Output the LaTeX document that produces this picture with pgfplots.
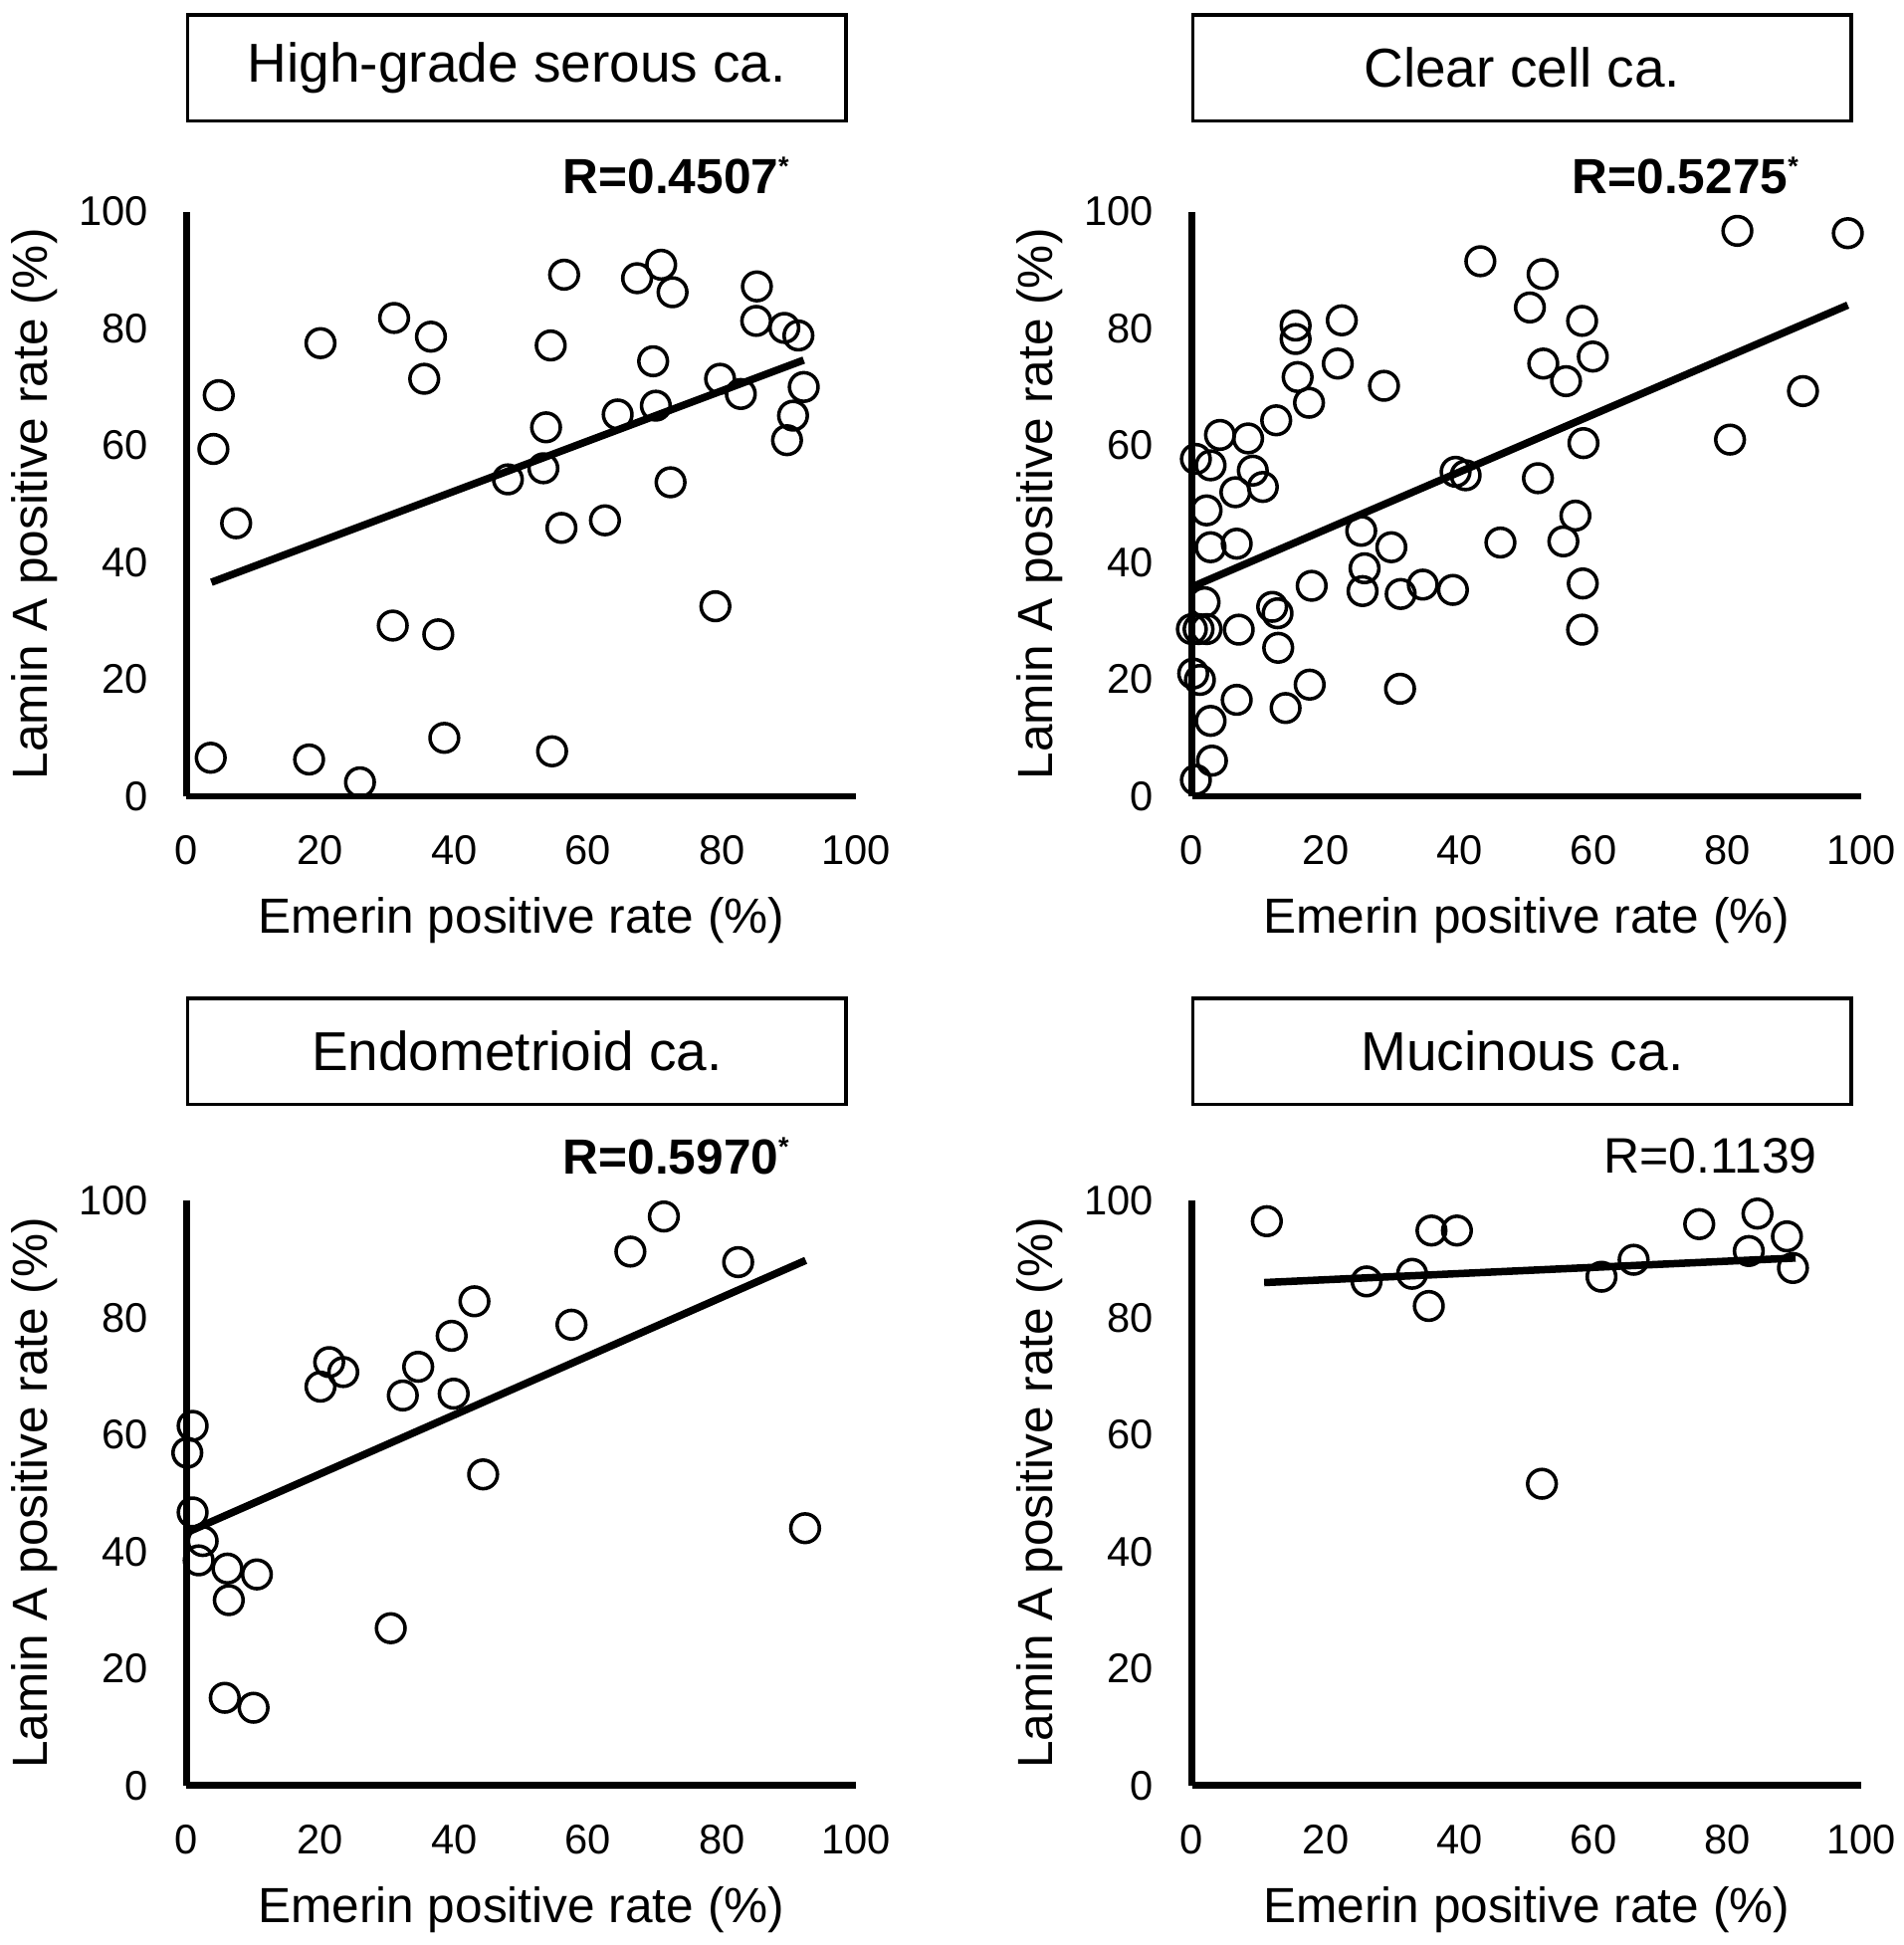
\documentclass[border=0pt]{standalone}
\usepackage{pgfplots}
\pgfplotsset{compat=1.18}
\usepackage{pgfplotstable}
\usepackage{fontspec}
\setmainfont{Liberation Sans}

% one px of the 1530-wide layout = 0.3pt
\pgfplotsset{
  panel/.style={
    scale only axis, width=161.4pt, height=141pt,
    xmin=0, xmax=100, ymin=0, ymax=100,
    xtick={0,20,...,100}, ytick={0,20,...,100},
    axis x line*=bottom, axis y line*=left,
    axis line style={line width=1.6pt, -},
    major tick length=0pt,
    clip=false,
    /pgf/number format/assume math mode=true,
    ticklabel style={font=\fontsize{10}{12}\selectfont},
    xticklabel style={yshift=-6pt},
    yticklabel style={xshift=-5.7pt},
    xlabel={Emerin positive rate (\%)},
    ylabel={Lamin A positive rate (\%)},
    label style={font=\fontsize{11.9}{14}\selectfont},
    xlabel style={at={(axis description cs:0.5,-0.213)}, anchor=center},
    ylabel style={at={(axis description cs:-0.227,0.5)}, anchor=center},
    title style={draw, line width=0.8pt, minimum width=158.7pt, minimum height=25.5pt,
      inner sep=0pt, yshift=-6pt, anchor=center,
      font=\fontsize{13.2}{15}\selectfont},
  },
  pts/.style={only marks, mark=o, mark size=3.45pt, mark options={line width=0.85pt, black}},
  fit/.style={no marks, black, line width=1.8pt},
}
\newcommand{\sig}{\textsuperscript{\fontsize{6.5}{6.5}\selectfont *}}

\pgfplotstableread{
x y
3.6 6.6
4.8 68.6
4.0 59.4
7.4 46.7
20.0 77.5
18.3 6.3
25.9 2.4
31.0 81.8
36.5 78.6
35.5 71.4
30.8 29.2
37.6 27.7
38.5 10.0
48.0 54.2
53.3 56.1
53.7 63.1
54.4 77.1
54.6 7.7
56.0 45.9
56.4 89.2
62.5 47.2
64.4 65.3
67.3 88.6
70.9 90.9
72.6 86.2
69.7 74.4
70.1 66.8
72.3 53.7
79.0 32.5
79.7 71.4
82.8 68.8
85.2 87.2
85.1 81.3
89.3 80.1
91.4 78.8
90.6 65.1
89.7 60.9
92.2 70.0
}\serous

\pgfplotstableread{
x y
81.5 96.7
98.0 96.3
43.1 91.5
52.4 89.3
50.5 83.6
58.3 81.3
59.9 75.2
52.5 74.0
55.9 71.0
91.3 69.3
80.4 61.0
58.5 60.4
15.5 80.5
15.5 78.2
22.4 81.4
21.8 74.0
15.8 71.7
17.5 67.3
28.7 70.2
12.6 64.3
4.2 61.8
8.4 61.2
0.6 57.7
2.8 56.6
9.1 55.7
10.6 52.9
6.5 52.0
2.2 48.9
2.8 42.6
6.7 43.2
39.4 55.5
40.9 54.9
51.7 54.4
25.3 45.4
29.8 42.6
46.1 43.4
57.3 48.0
55.5 43.6
25.8 39.0
17.9 36.0
25.5 35.1
31.2 34.6
34.5 36.2
39.0 35.3
58.4 36.4
1.9 33.2
12.0 32.4
12.8 31.3
0.0 28.6
1.0 28.6
2.2 28.6
7.0 28.5
12.9 25.4
58.3 28.5
0.2 21.0
1.2 19.9
17.6 19.1
31.1 18.4
6.7 16.5
14.0 15.1
2.8 12.9
3.0 6.1
0.6 2.8
}\clearcell

\pgfplotstableread{
x y
71.3 97.3
66.3 91.3
82.4 89.5
43.0 82.8
57.5 78.8
39.6 76.9
21.3 72.4
23.4 70.7
34.6 71.6
20.0 68.2
32.3 66.7
39.9 67.0
0.9 61.5
0.1 56.9
44.3 53.2
0.9 46.7
92.4 44.0
2.4 41.8
1.8 38.5
6.1 37.1
10.5 36.1
6.3 31.7
30.5 26.9
5.7 15.0
10.0 13.3
}\endometrioid

\pgfplotstableread{
x y
11.2 96.5
35.8 94.9
39.6 94.9
75.8 96.0
84.5 97.8
88.9 93.9
83.2 91.4
66.0 89.9
89.8 88.5
61.2 87.0
26.1 86.2
32.9 87.5
35.4 82.0
52.3 51.6
}\mucinous

\begin{document}
\begin{tikzpicture}
\path[use as bounding box] (0,0) rectangle (459.1pt,-468.96pt);

\begin{axis}[panel, at={(45pt,-192pt)}, anchor=south west,
  title={High-grade serous ca.},
  title style={at={(axis description cs:0.4935,1.2457)}}]
\addplot[pts] table {\serous};
\addplot[fit] coordinates {(3.7,36.6) (92.2,74.6)};
\node[anchor=base east, font=\fontsize{11.9}{14}\selectfont\bfseries]
  at (axis description cs:0.925,1.030) {R=0.4507\sig};
\end{axis}

\begin{axis}[panel, at={(287.4pt,-192pt)}, anchor=south west,
  title={Clear cell ca.},
  title style={at={(axis description cs:0.4935,1.2457)}}]
\addplot[pts] table {\clearcell};
\addplot[fit] coordinates {(0,35.8) (98,84.0)};
\node[anchor=base east, font=\fontsize{11.9}{14}\selectfont\bfseries]
  at (axis description cs:0.931,1.030) {R=0.5275\sig};
\end{axis}

\begin{axis}[panel, at={(45pt,-430.5pt)}, anchor=south west,
  title={Endometrioid ca.},
  title style={at={(axis description cs:0.4935,1.2553)}}]
\addplot[pts] table {\endometrioid};
\addplot[fit] coordinates {(0.5,43.5) (92.5,89.8)};
\node[anchor=base east, font=\fontsize{11.9}{14}\selectfont\bfseries]
  at (axis description cs:0.925,1.045) {R=0.5970\sig};
\end{axis}

\begin{axis}[panel, at={(287.4pt,-430.5pt)}, anchor=south west,
  title={Mucinous ca.},
  title style={at={(axis description cs:0.4935,1.2553)}}]
\addplot[pts] table {\mucinous};
\addplot[fit] coordinates {(10.8,86.0) (90.2,90.2)};
\node[anchor=base east, font=\fontsize{12}{14}\selectfont]
  at (axis description cs:0.956,1.047) {R=0.1139};
\end{axis}
\end{tikzpicture}
\end{document}
